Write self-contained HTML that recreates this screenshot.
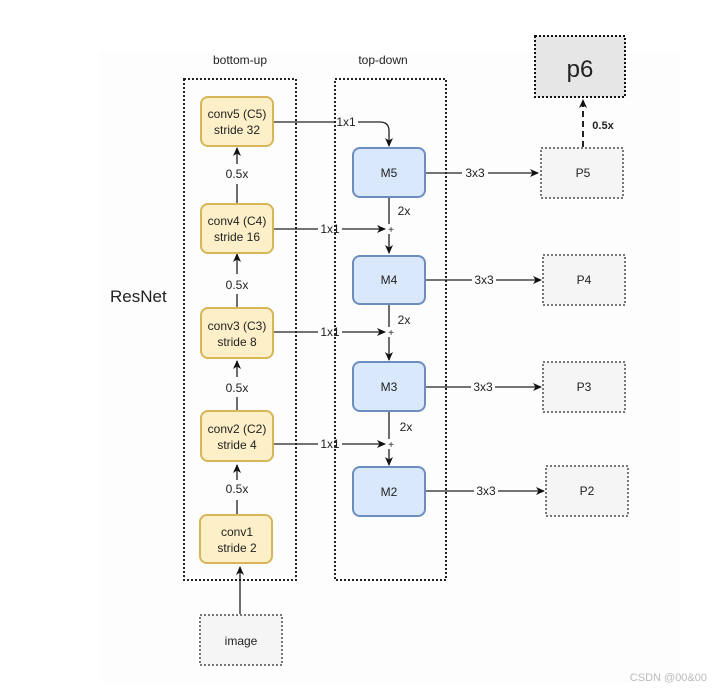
<!DOCTYPE html>
<html><head><meta charset="utf-8"><style>
html,body{margin:0;padding:0;background:#fff;}
svg{display:block;font-family:"Liberation Sans",Arial,sans-serif;}
</style></head><body>
<svg width="722" height="690" viewBox="0 0 722 690" xmlns="http://www.w3.org/2000/svg">
<defs>
<marker id="a" markerWidth="10" markerHeight="10" refX="8" refY="5" orient="auto" markerUnits="userSpaceOnUse">
<path d="M0,1 L9,5 L0,9 L2.5,5 z" fill="#111"/>
</marker>
</defs>
<rect x="100" y="52" width="580" height="630" fill="#fdfdfd"/>
<g font-size="12" fill="#222" text-anchor="middle">
<text x="240" y="64">bottom-up</text>
<text x="383" y="64">top-down</text>
</g>
<text x="110" y="302" font-size="17" fill="#222">ResNet</text>
<rect x="184" y="79" width="112" height="501" fill="none" stroke="#222" stroke-width="2" stroke-dasharray="2,2"/>
<rect x="335" y="79" width="111" height="501" fill="none" stroke="#222" stroke-width="2" stroke-dasharray="2,2"/>
<g stroke="#222" stroke-width="1.3" fill="none">
<line x1="240" y1="614" x2="240" y2="567" marker-end="url(#a)"/>
<line x1="237" y1="515" x2="237" y2="500"/><line x1="237" y1="480" x2="237" y2="465" marker-end="url(#a)"/>
<line x1="237" y1="411" x2="237" y2="397"/><line x1="237" y1="377" x2="237" y2="361" marker-end="url(#a)"/>
<line x1="237" y1="308" x2="237" y2="294"/><line x1="237" y1="274" x2="237" y2="254" marker-end="url(#a)"/>
<line x1="237" y1="203" x2="237" y2="184"/><line x1="237" y1="164" x2="237" y2="148" marker-end="url(#a)"/>
<path d="M273,122 H334 M358,122 H380 Q389,122 389,131 V146" marker-end="url(#a)"/>
<line x1="273" y1="229" x2="318" y2="229"/><line x1="342" y1="229" x2="385" y2="229" marker-end="url(#a)"/>
<line x1="273" y1="332" x2="318" y2="332"/><line x1="342" y1="332" x2="385" y2="332" marker-end="url(#a)"/>
<line x1="273" y1="444" x2="318" y2="444"/><line x1="342" y1="444" x2="385" y2="444" marker-end="url(#a)"/>
<line x1="389" y1="197" x2="389" y2="224"/><line x1="389" y1="234" x2="389" y2="253" marker-end="url(#a)"/>
<line x1="389" y1="304" x2="389" y2="327"/><line x1="389" y1="337" x2="389" y2="360" marker-end="url(#a)"/>
<line x1="389" y1="411" x2="389" y2="439"/><line x1="389" y1="449" x2="389" y2="465" marker-end="url(#a)"/>
<line x1="426" y1="173" x2="462" y2="173"/><line x1="488" y1="173" x2="538" y2="173" marker-end="url(#a)"/>
<line x1="426" y1="280" x2="472" y2="280"/><line x1="496" y1="280" x2="541" y2="280" marker-end="url(#a)"/>
<line x1="426" y1="387" x2="471" y2="387"/><line x1="495" y1="387" x2="541" y2="387" marker-end="url(#a)"/>
<line x1="426" y1="491" x2="474" y2="491"/><line x1="498" y1="491" x2="544" y2="491" marker-end="url(#a)"/>
<line x1="583" y1="147" x2="583" y2="100" stroke-width="2" stroke-dasharray="6,4" marker-end="url(#a)"/>
</g>
<g font-size="12" fill="#222" text-anchor="middle">
<text x="346" y="126">1x1</text>
<text x="330" y="233">1x1</text>
<text x="330" y="336">1x1</text>
<text x="330" y="448">1x1</text>
<text x="475" y="177">3x3</text>
<text x="484" y="284">3x3</text>
<text x="483" y="391">3x3</text>
<text x="486" y="495">3x3</text>
<text x="237" y="178">0.5x</text>
<text x="237" y="289">0.5x</text>
<text x="237" y="392">0.5x</text>
<text x="237" y="493">0.5x</text>
<text x="404" y="215">2x</text>
<text x="404" y="324">2x</text>
<text x="406" y="431">2x</text>
<text x="391" y="233" font-size="10">+</text>
<text x="391" y="336" font-size="10">+</text>
<text x="391" y="448" font-size="10">+</text>
<text x="603" y="129" font-weight="bold" font-size="11">0.5x</text>
</g>
<g fill="#fdf0c8" stroke="#d6b656" stroke-width="2">
<rect x="201" y="97" width="72" height="49" rx="7"/>
<rect x="201" y="204" width="72" height="49" rx="7"/>
<rect x="201" y="308" width="72" height="50" rx="7"/>
<rect x="201" y="411" width="72" height="50" rx="7"/>
<rect x="200" y="515" width="72" height="48" rx="7"/>
</g>
<g font-size="12" fill="#222" text-anchor="middle">
<text x="237" y="118">conv5 (C5)</text><text x="237" y="134">stride 32</text>
<text x="237" y="225">conv4 (C4)</text><text x="237" y="241">stride 16</text>
<text x="237" y="330">conv3 (C3)</text><text x="237" y="346">stride 8</text>
<text x="237" y="433">conv2 (C2)</text><text x="237" y="449">stride 4</text>
<text x="237" y="536">conv1</text><text x="237" y="552">stride 2</text>
</g>
<g fill="#dae8fc" stroke="#6c8ebf" stroke-width="2">
<rect x="353" y="148" width="72" height="49" rx="7"/>
<rect x="353" y="256" width="72" height="48" rx="7"/>
<rect x="353" y="362" width="72" height="49" rx="7"/>
<rect x="353" y="467" width="72" height="49" rx="7"/>
</g>
<g font-size="12" fill="#222" text-anchor="middle">
<text x="389" y="177">M5</text>
<text x="389" y="284">M4</text>
<text x="389" y="391">M3</text>
<text x="389" y="496">M2</text>
</g>
<g fill="#f5f5f5" stroke="#777" stroke-width="2" stroke-dasharray="2,2">
<rect x="541" y="148" width="82" height="50"/>
<rect x="543" y="255" width="82" height="50"/>
<rect x="543" y="362" width="82" height="50"/>
<rect x="546" y="466" width="82" height="50"/>
<rect x="200" y="615" width="82" height="50"/>
</g>
<rect x="535" y="36" width="90" height="61" fill="#e6e6e6" stroke="#111" stroke-width="2" stroke-dasharray="2,2"/>
<g font-size="12" fill="#222" text-anchor="middle">
<text x="583" y="177">P5</text>
<text x="584" y="284">P4</text>
<text x="584" y="391">P3</text>
<text x="587" y="495">P2</text>
<text x="241" y="645">image</text>
<text x="580" y="77" font-size="24">p6</text>
</g>
<text x="707" y="681" font-size="11" fill="#bbb" text-anchor="end">CSDN @00&amp;00</text>
</svg>
</body></html>
